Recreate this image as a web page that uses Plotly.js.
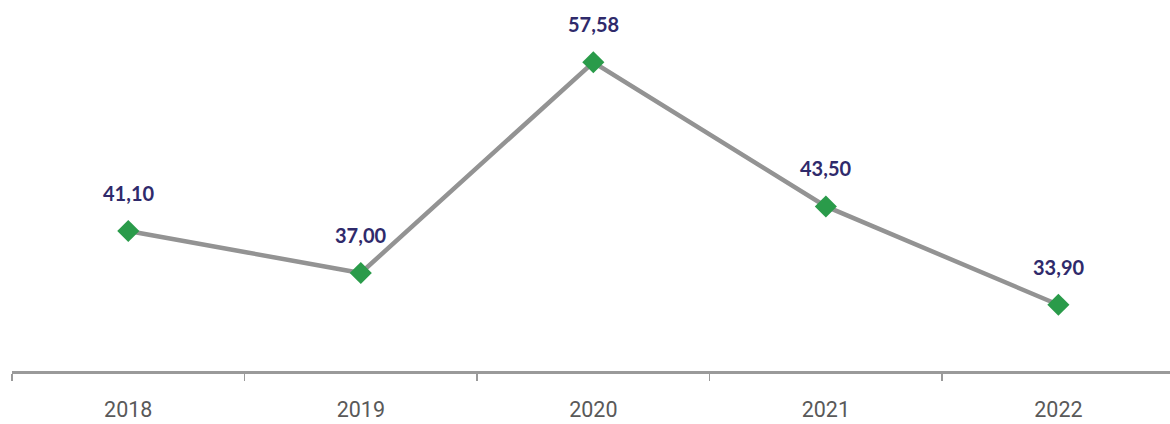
<!DOCTYPE html>
<html>
<head>
<meta charset="utf-8">
<script src="https://cdn.plot.ly/plotly-3.0.1.min.js"></script>
<style>html,body{margin:0;padding:0;background:#fff;}#chart{width:1170px;height:424px;}</style>
</head>
<body>
<div id="chart"></div>
<script>
const years = ['2018', '2019', '2020', '2021', '2022'];
const values = [41.10, 37.00, 57.58, 43.50, 33.90];
const valueLabels = ['41,10', '37,00', '57,58', '43,50', '33,90'];

const trace = {
  x: years,
  y: values,
  type: 'scatter',
  mode: 'lines+markers',
  line: {color: '#939393', width: 4.5},
  marker: {symbol: 'diamond', size: 17, color: '#2A9B4A'},
  hoverinfo: 'skip'
};

const annotations = years.map((yr, i) => ({
  x: i, y: values[i], xref: 'x', yref: 'y',
  text: valueLabels[i], showarrow: false,
  yshift: 38,
  font: {family: 'Lato, sans-serif', size: 20, color: '#2F2A6B', weight: 'bold'}
}));

const layout = {
  width: 1170, height: 424,
  margin: {l: 12, r: 0, t: 0, b: 53},
  paper_bgcolor: '#ffffff', plot_bgcolor: '#ffffff',
  showlegend: false,
  xaxis: {
    type: 'category',
    range: [-0.5, 4.48],
    showline: true, linecolor: '#9A9A9A', linewidth: 2.5,
    ticks: 'outside', tickson: 'boundaries', ticklen: 7, tickwidth: 1.5, tickcolor: '#9A9A9A',
    showgrid: false, zeroline: false,
    tickfont: {family: 'Roboto, sans-serif', size: 21.5, color: '#595959'},
    ticklabelstandoff: 18
  },
  yaxis: {
    range: [27.43, 63.66],
    visible: false, showgrid: false, zeroline: false
  },
  annotations: annotations
};

Plotly.newPlot('chart', [trace], layout, {staticPlot: true, displayModeBar: false});
</script>
</body>
</html>
